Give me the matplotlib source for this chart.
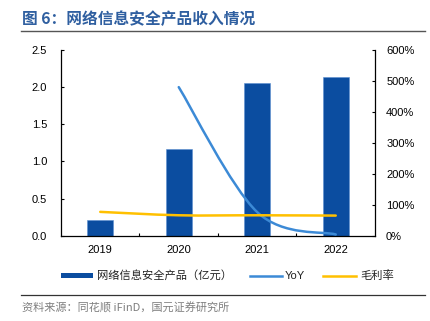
import matplotlib
matplotlib.use("Agg")
import matplotlib.pyplot as plt
from matplotlib.path import Path
from matplotlib.patches import PathPatch, Rectangle
from matplotlib.lines import Line2D
import numpy as np

years = ["2019", "2020", "2021", "2022"]
revenue = [0.21, 1.17, 2.06, 2.13]          # 网络信息安全产品（亿元）
yoy_years = ["2020", "2021", "2022"]
yoy = [4.80, 0.76, 0.04]                     # YoY
margin = [0.77, 0.66, 0.66, 0.65]            # 毛利率
left_ticks = [0.0, 0.5, 1.0, 1.5, 2.0, 2.5]
right_ticks = [0, 1, 2, 3, 4, 5, 6]

BAR = "#0B4DA0"
YOY_C = "#3C8AD6"
MAR_C = "#FFC000"
TITLE_C = "#2F5FA0"

CJK = ["Noto Sans CJK SC", "DejaVu Sans"]
LAT = ["Liberation Sans", "DejaVu Sans"]

W, H = 431, 321
fig = plt.figure(figsize=(W / 100, H / 100), dpi=100)

def fx(px):
    return px / W

def fy(py):
    return 1 - py / H

ax = fig.add_axes([fx(61), fy(235.7), fx(375) - fx(61), fy(50) - fy(235.7)])
ax2 = ax.twinx()

x = np.arange(len(years))
ax.bar(x, revenue, width=0.33, color=BAR, edgecolor="#5B8FD0", linewidth=0.4, zorder=2)
ax.set_xlim(-0.5, len(years) - 0.5)
ax.set_ylim(0, 2.5)
ax.set_yticks(left_ticks)
ax.set_yticklabels([f"{v:.1f}" for v in left_ticks], fontfamily=LAT, fontsize=8)
ax.set_xticks(x)
ax.set_xticklabels(years, fontfamily=LAT, fontsize=8)
ax.set_xticks(x[:-1] + 0.5, minor=True)
ax.tick_params(axis="x", which="major", length=0, pad=7)
ax.tick_params(axis="x", which="minor", direction="in", length=2.5, width=0.8)
ax.tick_params(axis="y", direction="in", length=2.5, width=0.8, pad=10)

ax2.set_ylim(0, 6)
ax2.set_yticks(right_ticks)
ax2.set_yticklabels([f"{v*100:.0f}%" for v in right_ticks], fontfamily=LAT, fontsize=8)
ax2.tick_params(axis="y", direction="in", length=2.5, width=0.8, pad=8)

for a in (ax, ax2):
    a.spines["top"].set_visible(False)
    for s in ("left", "right", "bottom"):
        a.spines[s].set_linewidth(0.9)
        a.spines[s].set_color("#000000")
ax.spines["right"].set_visible(False)
ax2.spines["left"].set_visible(False)
ax2.spines["bottom"].set_visible(False)


def smooth_path(xs, ys):
    pts = np.column_stack([xs, ys]).astype(float)
    n = len(pts)
    verts = [pts[0]]
    codes = [Path.MOVETO]
    for i in range(n - 1):
        p0 = pts[i - 1] if i > 0 else pts[i]
        p1 = pts[i]
        p2 = pts[i + 1]
        p3 = pts[i + 2] if i + 2 < n else pts[i + 1]
        c1 = p1 + (p2 - p0) / 6.0
        c2 = p2 - (p3 - p1) / 6.0
        verts += [c1, c2, p2]
        codes += [Path.CURVE4] * 3
    return Path(verts, codes)

xi = {y: i for i, y in enumerate(years)}
yx = [xi[y] for y in yoy_years]
ax2.add_patch(PathPatch(smooth_path(yx, yoy), facecolor="none", edgecolor=YOY_C,
                        linewidth=1.8, capstyle="round", zorder=3))
ax2.add_patch(PathPatch(smooth_path(x, margin), facecolor="none", edgecolor=MAR_C,
                        linewidth=1.8, capstyle="round", zorder=3))

# Title and rules
fig.text(fx(22), fy(18.5), "图 6：网络信息安全产品收入情况", fontfamily=CJK, fontsize=11.3,
         fontweight="bold", color=TITLE_C, va="center", ha="left")
fig.add_artist(Line2D([fx(21), fx(425)], [fy(31), fy(31)], color="#555555", linewidth=1.0))
fig.add_artist(Line2D([fx(21), fx(425)], [fy(295), fy(295)], color="#333333", linewidth=0.9))

# Legend
ly = 275.7
fig.add_artist(Rectangle((fx(61), fy(ly + 2.7)), fx(93) - fx(61), fy(ly - 2.7) - fy(ly + 2.7),
                         facecolor=BAR, edgecolor="none"))
fig.text(fx(97), fy(ly), "网络信息安全产品（亿元）", fontfamily=CJK, fontsize=8.1,
         va="center", ha="left", color="#222222")
fig.add_artist(Line2D([fx(250), fx(282)], [fy(ly), fy(ly)], color=YOY_C, linewidth=1.8))
fig.text(fx(285), fy(ly), "YoY", fontfamily=LAT, fontsize=8, va="center", ha="left", color="#222222")
fig.add_artist(Line2D([fx(323), fx(356)], [fy(ly), fy(ly)], color=MAR_C, linewidth=1.8))
fig.text(fx(360), fy(ly), "毛利率", fontfamily=CJK, fontsize=8.1, va="center", ha="left", color="#222222")

# Source
fig.text(fx(22), fy(308), "资料来源：同花顺 iFinD，国元证券研究所", fontfamily=CJK, fontsize=8,
         va="center", ha="left", color="#7F7F7F")

fig.savefig("out.png", dpi=100)
